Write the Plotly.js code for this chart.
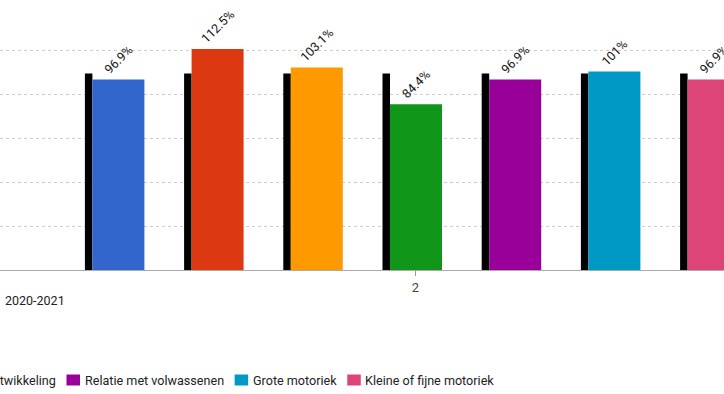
<!DOCTYPE html>
<html><head><meta charset="utf-8">
<script src="https://cdn.plot.ly/plotly-3.0.1.min.js"></script>
<style>html,body{margin:0;padding:0;overflow:hidden;background:#fff}#chart{width:724px;height:394px}</style>
</head><body><div id="chart"></div>
<script>
// ---- data ----
const category = [2];
const xTickLabels = ['2'];
const seriesNames = ['Welbevinden', 'Betrokkenheid', 'Sociale ontwikkeling', 'Taalontwikkeling',
  'Relatie met volwassenen', 'Grote motoriek', 'Kleine of fijne motoriek'];
const seriesValues = [96.9, 112.5, 103.1, 84.4, 96.9, 101, 96.9];
const referenceValues = [100, 100, 100, 100, 100, 100, 100];
const seriesColors = ['#3366cc', '#dc3912', '#ff9900', '#109618', '#990099', '#0099c6', '#dd4477'];
const periodLabel = '2020-2021';

// ---- layout constants (px) ----
const W = 724, H = 394, MT = 7, MB = 124;
const plotH = H - MT - MB;
const pxPerUnit = 800, tickPx = 415.5;
const periodPx = 99.2, colW = 52, refW = 7.5, midLeftRel = -25.5, midIndex = 3;
const FONT = 'Roboto, Arial, sans-serif';

const traces = [];
seriesNames.forEach((name, i) => {
  const colLeft = (midLeftRel + (i - midIndex) * periodPx) / pxPerUnit;
  traces.push({
    type: 'bar', x: category, y: [referenceValues[i]], name: name + ' (norm)',
    offset: colLeft - refW / pxPerUnit, width: refW / pxPerUnit,
    marker: {color: '#000000', line: {width: 0}}, showlegend: false, hoverinfo: 'skip'
  });
  traces.push({
    type: 'bar', x: category, y: [seriesValues[i]], name: name,
    offset: colLeft, width: colW / pxPerUnit,
    marker: {color: seriesColors[i], line: {width: 0}},
    texttemplate: '%{y}%', textposition: 'outside', textangle: -45,
    textfont: {family: FONT, size: 12.5, color: '#111111'},
    cliponaxis: false, constraintext: 'none', showlegend: false
  });
});

// ---- custom legend (measured text) ----
const LEG_SIZE = 12.6;
const ctx = document.createElement('canvas').getContext('2d');
ctx.font = LEG_SIZE + 'px Roboto';
const sw = 13.5, sh = 11, gap1 = 4.5, gap2 = 11, legendY = 380, anchorIdx = 4, anchorX = 66.5;
const widths = seriesNames.map(n => ctx.measureText(n).width);
const lefts = new Array(seriesNames.length);
lefts[anchorIdx] = anchorX;
for (let i = anchorIdx + 1; i < seriesNames.length; i++) lefts[i] = lefts[i - 1] + sw + gap1 + widths[i - 1] + gap2;
for (let i = anchorIdx - 1; i >= 0; i--) lefts[i] = lefts[i + 1] - (sw + gap1 + widths[i] + gap2);
const px2x = p => p / W;
const py2y = p => (H - MB - p) / plotH;
const shapes = [], annotations = [];
seriesNames.forEach((name, i) => {
  shapes.push({type: 'rect', xref: 'paper', yref: 'paper',
    x0: px2x(lefts[i]), x1: px2x(lefts[i] + sw), y0: py2y(legendY + sh / 2), y1: py2y(legendY - sh / 2),
    fillcolor: seriesColors[i], line: {width: 0}});
  annotations.push({xref: 'paper', yref: 'paper', x: px2x(lefts[i] + sw + gap1 - 2), y: py2y(legendY),
    xanchor: 'left', yanchor: 'middle', showarrow: false, text: name,
    font: {family: FONT, size: LEG_SIZE, color: '#222222'}});
});
annotations.push({xref: 'paper', yref: 'paper', x: px2x(3), y: py2y(300), xanchor: 'left', yanchor: 'middle',
  showarrow: false, text: periodLabel, font: {family: FONT, size: 12.5, color: '#222222'}});

const layout = {
  width: W, height: H, margin: {l: 0, r: 0, t: MT, b: MB, autoexpand: false},
  paper_bgcolor: '#ffffff', plot_bgcolor: '#ffffff', barmode: 'overlay', showlegend: false,
  font: {family: FONT},
  xaxis: {range: [2 - tickPx / pxPerUnit, 2 + (W - tickPx) / pxPerUnit], tickvals: category, ticktext: xTickLabels,
    ticks: 'outside', ticklen: 5, tickcolor: '#999999', tickfont: {family: FONT, size: 13, color: '#444444'},
    showgrid: false, zeroline: false, showline: true, linecolor: '#aaaaaa', linewidth: 1},
  yaxis: {range: [0, 133.85], tick0: 0, dtick: 22.3, showticklabels: false, showgrid: true,
    gridcolor: '#cccccc', griddash: 'dot', gridwidth: 1, zeroline: false, ticks: ''},
  shapes: shapes, annotations: annotations
};
Plotly.newPlot('chart', traces, layout, {displayModeBar: false, staticPlot: true});
</script>
</body></html>
